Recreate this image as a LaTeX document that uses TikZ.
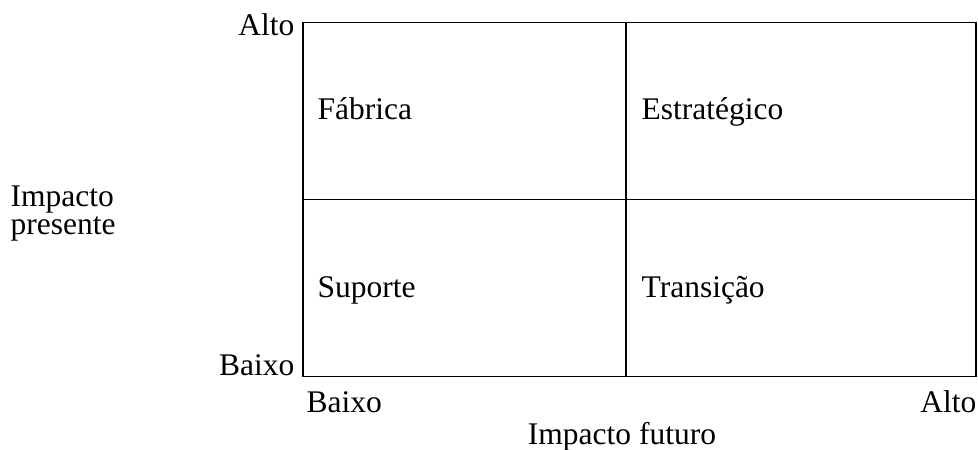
\documentclass[tikz,border=0pt]{standalone}
\usepackage{fontspec}
\setmainfont{Liberation Serif}
\usepackage{tikz}
\usetikzlibrary{positioning}
\usetikzlibrary{calc}
\tikzset{every picture/.style={line width=0.5pt},
  quadlabel/.style={anchor=base west,inner sep=0pt,font=\fontsize{12.6}{14}\selectfont},
  axislabel/.style={inner sep=0pt,font=\fontsize{12.6}{11.2}\selectfont}}

\begin{document}
\begin{tikzpicture}[x=0.4pt,y=-0.4pt]
\useasboundingbox (0,0) rectangle (978,449);

\coordinate (nw) at (303,22.7);
\coordinate (se) at (976,376.7);
\coordinate (ntop) at (626,22.7);
\coordinate (nbot) at (626,376.7);
\coordinate (wmid) at (303,199.3);
\coordinate (emid) at (976,199.3);

\draw (nw) rectangle (se);
\draw (ntop) -- (nbot);
\draw (wmid) -- (emid);

\node (fab) at (317,119) [quadlabel] {Fábrica};
\node (estr) at (641,119) [quadlabel] {Estratégico};
\node (sup) at (317,297) [quadlabel] {Suporte};
\node (trans) at (641,297) [quadlabel] {Transição};

\node (yhigh) at (295,35) [axislabel,anchor=base east] {Alto};
\node (ylow) at (295,375) [axislabel,anchor=base east] {Baixo};
\node (ytitle) at (10,234) [axislabel,anchor=base west,align=left] {Impacto\\presente};

\node (xlow) at (306,412) [axislabel,anchor=base west] {Baixo};
\node (xhigh) at (977,412) [axislabel,anchor=base east] {Alto};
\node (xtitle) at (622,444) [axislabel,anchor=base] {Impacto futuro};
\end{tikzpicture}
\end{document}
